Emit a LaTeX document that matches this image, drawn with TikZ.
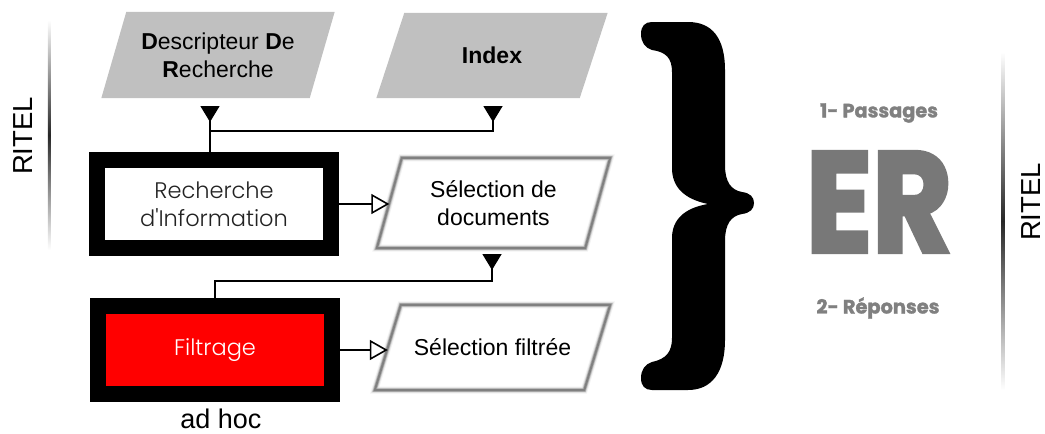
\documentclass[tikz,border=0pt]{standalone}
\usepackage{fontspec}
\usepackage{graphicx}
\setmainfont{Liberation Sans}
\newfontfamily\gothic{Poppins}[UprightFont=* Light]
\newfontfamily\heavy{Poppins}[BoldFeatures={FakeBold=1.5}]
\newfontfamily\heavier{Poppins}[BoldFeatures={FakeBold=3}]
\usetikzlibrary{arrows.meta,backgrounds,calc}
\definecolor{datagray}{HTML}{C0C0C0}
\definecolor{ergray}{HTML}{787878}
\definecolor{lblgray}{HTML}{808080}
\definecolor{edgegray}{HTML}{767676}
\definecolor{inktext}{HTML}{222222}

\begin{document}
\begin{tikzpicture}[x=1pt,y=-1pt,
  iobox/.style={rectangle, inner sep=0pt, align=center, text=black,
    font=\fontsize{23}{28}\selectfont},
  procbox/.style={rectangle, draw=black, line width=16pt, minimum width=234pt,
    minimum height=88pt, align=center, font=\gothic\fontsize{22.5}{28}\selectfont},
  para/.style 2 args={insert path={([xshift=#2]#1.north west) -- ([xshift=#2]#1.north east)
    -- ([xshift=-#2]#1.south east) -- ([xshift=-#2]#1.south west) -- cycle}},
  flow/.style={line width=1.6pt, draw=black},
  dtip/.style={-{Triangle[reversed,length=16pt,width=19pt]}},
  otip/.style={-{Triangle[open,length=18pt,width=20pt,fill=white]}},
  sidelabel/.style={rotate=90, inner sep=0pt, font=\fontsize{27.5}{30}\selectfont},
  erlabel/.style={inner sep=0pt}
]
\useasboundingbox (0,0) rectangle (1045,434);

% side rules fading at both ends
\shade[top color=white, bottom color=white, middle color=black!85] (47.8,20) rectangle (50.6,250);
\shade[top color=white, bottom color=white, middle color=black!85] (1001.6,52) rectangle (1004.4,390);
\node[sidelabel] (ritelL) at (23,136) {RITEL};
\node[sidelabel] (ritelR) at (1031,202) {RITEL};

% data and process nodes
\node[iobox, minimum width=208pt, minimum height=86pt] (desc) at (218,55)
  {\textbf{D}escripteur \textbf{D}e\\\textbf{R}echerche};
\node[iobox, minimum width=203pt, minimum height=85pt] (idx) at (492,55.5) {\textbf{Index}};
\node[procbox, fill=white, text=inktext] (ri) at (214,204) {Recherche\\d'Information};
\node[iobox, minimum width=208pt, minimum height=90pt] (sd) at (493.5,203) {Sélection de\\documents};
\node[procbox, fill=red, text=white] (ft) at (215,350) {Filtrage};
\node[iobox, minimum width=209pt, minimum height=85pt] (sf) at (492.5,347.5) {Sélection filtrée};
\node[anchor=base, inner sep=0pt, font=\fontsize{27}{30}\selectfont] (adhoc) at (221,428) {ad hoc};

% parallelogram bodies
\begin{scope}[on background layer]
  \fill[datagray, para={desc}{12.5pt}];
  \fill[datagray, para={idx}{14pt}];
  \fill[white, para={sd}{12.5pt}];
  \fill[white, para={sf}{13pt}];
  \draw[line width=7pt, black, opacity=.05, para={sd}{12.5pt}];
  \draw[line width=5pt, black, opacity=.10, para={sd}{12.5pt}];
  \draw[line width=3.5pt, edgegray, opacity=.45, para={sd}{12.5pt}];
  \draw[line width=2pt, edgegray, opacity=.8, para={sd}{12.5pt}];
  \draw[line width=7pt, black, opacity=.05, para={sf}{13pt}];
  \draw[line width=5pt, black, opacity=.10, para={sf}{13pt}];
  \draw[line width=3.5pt, edgegray, opacity=.45, para={sf}{13pt}];
  \draw[line width=2pt, edgegray, opacity=.8, para={sf}{13pt}];
\end{scope}

% connectors
\coordinate (dIn) at (210,106);
\coordinate (iIn) at (493,106);
\coordinate (j1) at (210,131);
\coordinate (sIn) at (492,254);
\coordinate (j2) at (492,281);
\draw[flow, dtip] (ri.north -| dIn) -- (dIn);
\draw[flow, dtip] (j1) -| (iIn);
\draw[flow, dtip] (ft.north) |- (j2) -- (sIn);
\draw[flow, otip] (ri.east) -- (ri.east -| sd.west);
\draw[flow, otip] (ft.east) -- (ft.east -| sf.west);

% closing brace
\fill[black] (652,22) -- (688,22) .. controls (712,22) and (725,38) .. (725,70)
  -- (725,165) .. controls (725,182) and (731,190) .. (742,192)
  .. controls (750,193) and (754,197) .. (754,203)
  .. controls (754,209) and (750,213) .. (742,214)
  .. controls (731,216) and (725,224) .. (725,241)
  -- (725,340) .. controls (725,372) and (712,390) .. (688,390)
  -- (652,390) .. controls (645,390) and (641,386) .. (641,378)
  .. controls (641,370) and (645,364) .. (652,362)
  .. controls (666,359) and (672,352) .. (672,338)
  -- (672,238) .. controls (672,220) and (684,208) .. (708,204)
  .. controls (684,199) and (672,187) .. (672,168)
  -- (672,72) .. controls (672,58) and (666,52) .. (652,50)
  .. controls (645,48) and (641,42) .. (641,34)
  .. controls (641,26) and (645,22) .. (652,22) -- cycle;

% evaluation labels
\node[erlabel, text=lblgray] (pass) at (879,113) {\resizebox{118pt}{!}{\heavy\bfseries 1- Passages}};
\node[erlabel, text=ergray] (er) at (879,202) {\resizebox{146pt}{100pt}{\heavier\bfseries ER}};
\node[erlabel, text=lblgray] (rep) at (878,308) {\resizebox{123pt}{!}{\heavy\bfseries 2- Réponses}};
\end{tikzpicture}
\end{document}
